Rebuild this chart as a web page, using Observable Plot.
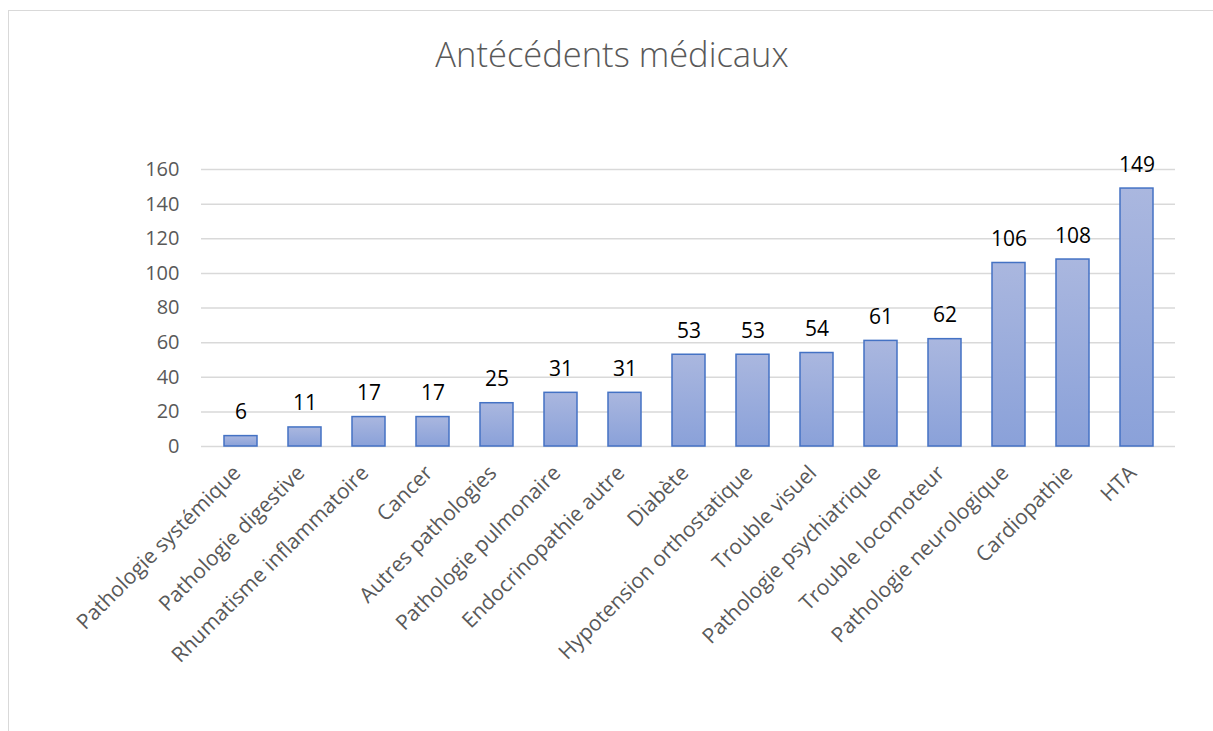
<!DOCTYPE html>
<html><head><meta charset="utf-8">
<script src="https://cdn.jsdelivr.net/npm/d3@7"></script>
<script src="https://cdn.jsdelivr.net/npm/@observablehq/plot@0.6"></script>
<style>
body{margin:0;background:#fff;font-family:"Open Sans",sans-serif;}
#wrap{position:relative;width:1213px;height:731px;overflow:hidden;}
#frame{position:absolute;left:8px;top:10px;width:1300px;height:800px;border:1.5px solid #d9d9d9;box-sizing:border-box;}
#title{position:relative;height:100px;text-align:center;font-size:34.5px;font-weight:300;color:#595959;line-height:1;padding-top:37px;box-sizing:border-box;padding-left:11px;}
#chart{position:relative;}
</style></head>
<body><div id="wrap"><div id="frame"></div><div id="title">Antécédents médicaux</div><div id="chart"></div></div>
<script>
const categories = ["Pathologie systémique","Pathologie digestive","Rhumatisme inflammatoire","Cancer","Autres pathologies","Pathologie pulmonaire","Endocrinopathie autre","Diabète","Hypotension orthostatique","Trouble visuel","Pathologie psychiatrique","Trouble locomoteur","Pathologie neurologique","Cardiopathie","HTA"];
const values = [6,11,17,17,25,31,31,53,53,54,61,62,106,108,149];
const yTicks = [0,20,40,60,80,100,120,140,160];
const data = categories.map((c,i)=>({cat:c,val:values[i]}));

const chart = Plot.plot({
  width:1213, height:631,
  marginTop:69, marginBottom:285, marginLeft:201, marginRight:38,
  style:{fontFamily:"Open Sans, sans-serif", background:"transparent"},
  x:{domain:categories, paddingInner:0.49, paddingOuter:0.24, label:null},
  y:{domain:[0,160], label:null},
  marks:[
    Plot.gridY(yTicks,{stroke:"#d9d9d9", strokeOpacity:1, strokeWidth:1.5}),
    Plot.axisY(yTicks,{tickSize:0, tickPadding:22, fontSize:20, fill:"#595959", label:null}),
    Plot.axisX({tickSize:0, tickRotate:-45, tickPadding:10, fontSize:21, fill:"#595959", label:null, dx:-4, dy:13}),
    Plot.barY(data,{x:"cat", y:"val", fill:"url(#barGrad)", stroke:"#4472c4", strokeWidth:1.5}),
    Plot.text(data,{x:"cat", y:"val", text:d=>String(d.val), lineAnchor:"bottom", dy:-17, fontSize:21, fill:"#000"})
  ]
});
const svg = d3.select(chart);
const defs = svg.insert("defs",":first-child");
const g = defs.append("linearGradient").attr("id","barGrad").attr("x1",0).attr("y1",0).attr("x2",0).attr("y2",1);
g.append("stop").attr("offset","0%").attr("stop-color","#aab7df");
g.append("stop").attr("offset","100%").attr("stop-color","#8aa1d9");
document.getElementById("chart").appendChild(chart);
</script></body></html>
